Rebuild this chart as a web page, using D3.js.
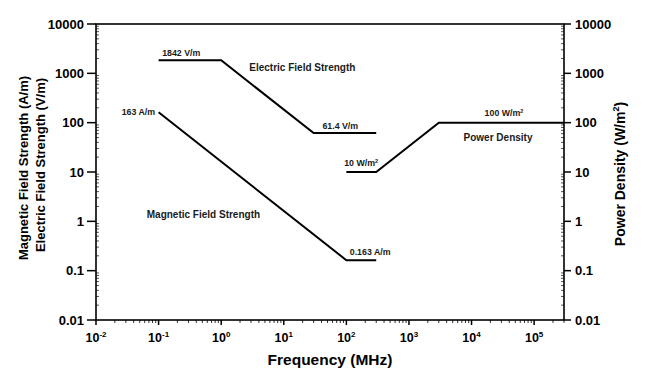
<!DOCTYPE html>
<html><head><meta charset="utf-8">
<script src="https://cdn.jsdelivr.net/npm/d3@7"></script>
<style>body{margin:0;background:#fff}svg{display:block;font-family:"Liberation Sans",Arial,sans-serif;font-weight:bold}</style>
</head><body><svg id="c" width="656" height="389"></svg>
<script>
// Data
const xTickExponents = [-2, -1, 0, 1, 2, 3, 4, 5];
const yTickValues = [0.01, 0.1, 1, 10, 100, 1000, 10000];
const yTickLabels = ["0.01", "0.1", "1", "10", "100", "1000", "10000"];
const eFreq = [0.1, 1, 30, 300];
const eVal = [1842, 1842, 61.4, 61.4];
const hFreq = [0.1, 100, 300];
const hVal = [163, 0.163, 0.163];
const pFreq = [100, 300, 3000, 300000];
const pVal = [10, 10, 100, 100];
const labelText = ["1842 V/m", "Electric Field Strength", "163 A/m", "61.4 V/m", "Magnetic Field Strength", "0.163 A/m", "10 W/m", "100 W/m", "Power Density"];
const labelSup = ["", "", "", "", "", "", "2", "2", ""];
const labelFreq = [0.23, 19.8, 0.088, 80, 0.52, 240, 172, 33000, 26500];
const labelVal = [2580, 1342, 163, 85, 1.4, 0.237, 15.1, 157, 51];
const labelAnchor = ["middle", "middle", "end", "middle", "middle", "middle", "middle", "middle", "middle"];
const labelBig = [false, true, false, false, true, false, false, false, true];

const svg = d3.select("#c");
const m = {l: 96, r: 564, t: 24, b: 320};
const x = d3.scaleLog().domain([0.01, 300000]).range([m.l, m.r]);
const y = d3.scaleLog().domain([0.01, 10000]).range([m.b, m.t]);

// minor ticks
const minorX = [];
for (let e = -2; e <= 5; e++) for (let k = 2; k <= 9; k++) { const v = k * Math.pow(10, e); if (v <= 300000) minorX.push(v); }
const minorY = [];
for (let e = -2; e < 4; e++) for (let k = 2; k <= 9; k++) minorY.push(k * Math.pow(10, e));

const g = svg.append("g");
g.selectAll(".mx").data(minorX).join("line")
  .attr("x1", d => x(d)).attr("x2", d => x(d)).attr("y1", m.b).attr("y2", m.b + 3)
  .attr("stroke", "#333").attr("stroke-width", 1);
g.selectAll(".Mx").data(xTickExponents).join("line")
  .attr("x1", d => x(Math.pow(10, d))).attr("x2", d => x(Math.pow(10, d))).attr("y1", m.b).attr("y2", m.b + 5)
  .attr("stroke", "#000").attr("stroke-width", 1.5);
g.selectAll(".myl").data(minorY).join("line")
  .attr("x1", m.l).attr("x2", m.l + 3).attr("y1", d => y(d)).attr("y2", d => y(d))
  .attr("stroke", "#555").attr("stroke-width", 1);
g.selectAll(".myr").data(minorY).join("line")
  .attr("x1", m.r - 3).attr("x2", m.r).attr("y1", d => y(d)).attr("y2", d => y(d))
  .attr("stroke", "#555").attr("stroke-width", 1);
g.selectAll(".Myl").data(yTickValues).join("line")
  .attr("x1", m.l - 9).attr("x2", m.l).attr("y1", d => y(d)).attr("y2", d => y(d))
  .attr("stroke", "#000").attr("stroke-width", 1.5);
g.selectAll(".Myr").data(yTickValues).join("line")
  .attr("x1", m.r).attr("x2", m.r + 7).attr("y1", d => y(d)).attr("y2", d => y(d))
  .attr("stroke", "#000").attr("stroke-width", 1.5);

g.append("rect").attr("x", m.l).attr("y", m.t).attr("width", m.r - m.l).attr("height", m.b - m.t)
  .attr("fill", "none").attr("stroke", "#000").attr("stroke-width", 1.6);

// tick labels
g.selectAll(".yl").data(yTickValues).join("text")
  .attr("x", m.l - 12).attr("y", d => y(d)).attr("dy", "0.36em").attr("text-anchor", "end")
  .attr("font-size", 13).text((d, i) => yTickLabels[i]);
g.selectAll(".yr").data(yTickValues).join("text")
  .attr("x", m.r + 11).attr("y", d => y(d)).attr("dy", "0.36em").attr("text-anchor", "start")
  .attr("font-size", 13).text((d, i) => yTickLabels[i]);
const xl = g.selectAll(".xl").data(xTickExponents).join("text")
  .attr("x", d => x(Math.pow(10, d))).attr("y", m.b + 21.5).attr("text-anchor", "middle").attr("font-size", 12.5);
xl.append("tspan").text("10");
xl.append("tspan").attr("dy", -5).attr("font-size", 8).text(d => d);

// axis titles
g.append("text").attr("x", 330).attr("y", 364.5).attr("text-anchor", "middle").attr("font-size", 15.5).text("Frequency (MHz)");
g.append("text").attr("transform", `translate(28,168) rotate(-90)`).attr("text-anchor", "middle")
  .attr("font-size", 13).text("Magnetic Field Strength (A/m)");
g.append("text").attr("transform", `translate(45,165) rotate(-90)`).attr("text-anchor", "middle")
  .attr("font-size", 13).text("Electric Field Strength (V/m)");
const rt = g.append("text").attr("transform", `translate(625,174) rotate(-90)`).attr("text-anchor", "middle")
  .attr("font-size", 14);
rt.append("tspan").text("Power Density (W/m");
rt.append("tspan").attr("dy", -6).attr("font-size", 9).text("2");
rt.append("tspan").attr("dy", 6).text(")");

// series
const line = d3.line().x(d => x(d[0])).y(d => y(d[1]));
[[eFreq, eVal], [hFreq, hVal], [pFreq, pVal]].forEach(([f, v]) => {
  g.append("path").datum(f.map((d, i) => [d, v[i]])).attr("d", line)
    .attr("fill", "none").attr("stroke", "#000").attr("stroke-width", 2).attr("stroke-linejoin", "miter");
});

// annotations
labelText.forEach((t, i) => {
  const tx = g.append("text").attr("x", x(labelFreq[i])).attr("y", y(labelVal[i])).attr("dy", "0.35em")
    .attr("text-anchor", labelAnchor[i]).attr("font-size", labelBig[i] ? 10 : 8.8).attr("fill", "#1a1a1a");
  tx.append("tspan").text(t);
  if (labelSup[i]) tx.append("tspan").attr("dy", -3.5).attr("font-size", 5.5).text(labelSup[i]);
});
</script></body></html>
